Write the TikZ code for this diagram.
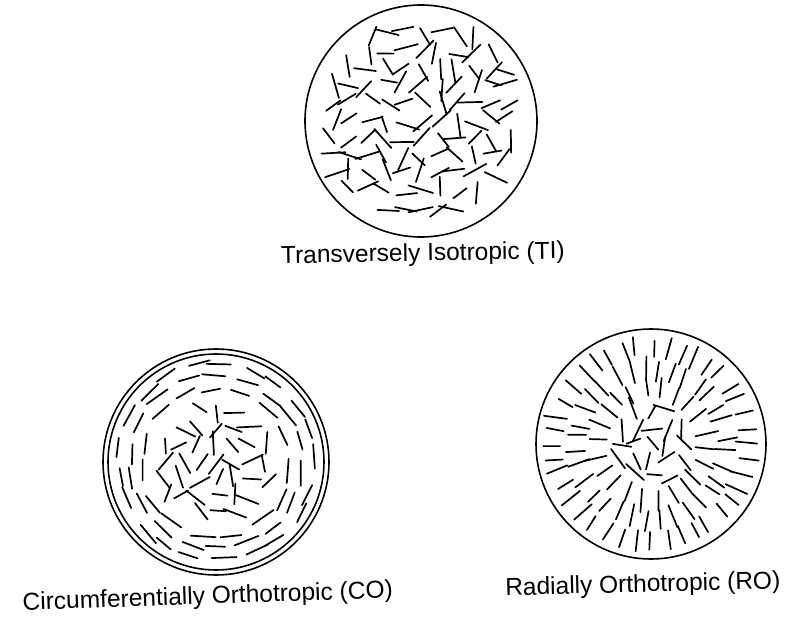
\documentclass[tikz,border=0pt]{standalone}
\usepackage{fontspec}
\setmainfont{Liberation Sans}
\begin{document}
\begin{tikzpicture}[x=1pt,y=-1pt,
  fib/.style={line width=1.7pt, line cap=round},
  rim/.style={line width=1.6pt},
  lab/.style={font=\fontsize{24.5}{28}\selectfont, anchor=base, inner sep=0pt}]
\useasboundingbox (0,0) rectangle (792,620);
\pgfmathsetseed{4711}
% ---------- Transversely isotropic ----------
\coordinate (ti) at (421,121);
\begin{scope}[shift={(421,121)}]
\draw[rim] (0,0) circle[radius=116];
\foreach \i in {-6,...,6}{
  \foreach \j in {-6,...,6}{
    \pgfmathsetmacro{\px}{\i*17.5+5*rand}
    \pgfmathsetmacro{\py}{\j*17.5+5*rand}
    \pgfmathtruncatemacro{\ok}{veclen(\px,\py)<100}
    \ifnum\ok=1
      \pgfmathsetmacro{\an}{180*rnd}
      \pgfmathsetmacro{\len}{10.5+2.5*rand}
      \pgfmathsetmacro{\dx}{\len*cos(\an)}
      \pgfmathsetmacro{\dy}{\len*sin(\an)}
      \draw[fib] (\px+\dx,\py+\dy) -- (\px-\dx,\py-\dy);
    \fi
  }
}
\end{scope}
% ---------- Circumferentially orthotropic ----------
\coordinate (co) at (216,462);
\begin{scope}[shift={(216,462)}]
\draw[rim] (0,0) circle[radius=113];
\draw[rim] (0,0) circle[radius=108];
\foreach \rr/\n/\off in {98/21/0, 86/18/9, 74/15/4}{
  \foreach \k in {1,...,\n}{
    \pgfmathsetmacro{\th}{360/\n*\k+\off+4*rand}
    \pgfmathsetmacro{\r}{\rr+2.5*rand}
    \pgfmathsetmacro{\an}{\th+90+8*rand}
    \pgfmathsetmacro{\len}{11+2*rand}
    \pgfmathsetmacro{\cx}{\r*cos(\th)}
    \pgfmathsetmacro{\cy}{\r*sin(\th)}
    \pgfmathsetmacro{\dx}{\len*cos(\an)}
    \pgfmathsetmacro{\dy}{\len*sin(\an)}
    \draw[fib] (\cx+\dx,\cy+\dy) -- (\cx-\dx,\cy-\dy);
  }
}
\foreach \i in {-4,...,4}{
  \foreach \j in {-4,...,4}{
    \pgfmathsetmacro{\px}{\i*17+4*rand}
    \pgfmathsetmacro{\py}{\j*17+4*rand}
    \pgfmathtruncatemacro{\ok}{veclen(\px,\py)<58}
    \ifnum\ok=1
      \pgfmathsetmacro{\an}{180*rnd}
      \pgfmathsetmacro{\len}{10+2.5*rand}
      \pgfmathsetmacro{\dx}{\len*cos(\an)}
      \pgfmathsetmacro{\dy}{\len*sin(\an)}
      \draw[fib] (\px+\dx,\py+\dy) -- (\px-\dx,\py-\dy);
    \fi
  }
}
\end{scope}
% ---------- Radially orthotropic ----------
\coordinate (ro) at (651,444);
\begin{scope}[shift={(651,444)}]
\draw[rim] (0,0) circle[radius=115];
\foreach \rr/\n/\off in {97/40/0, 75/32/5, 55/22/3}{
  \foreach \k in {1,...,\n}{
    \pgfmathsetmacro{\th}{360/\n*\k+\off+3*rand}
    \pgfmathsetmacro{\r}{\rr+2.5*rand}
    \pgfmathsetmacro{\an}{\th+8*rand}
    \pgfmathsetmacro{\len}{10+2*rand}
    \pgfmathsetmacro{\cx}{\r*cos(\th)}
    \pgfmathsetmacro{\cy}{\r*sin(\th)}
    \pgfmathsetmacro{\dx}{\len*cos(\an)}
    \pgfmathsetmacro{\dy}{\len*sin(\an)}
    \draw[fib] (\cx+\dx,\cy+\dy) -- (\cx-\dx,\cy-\dy);
  }
}
\foreach \i in {-3,...,3}{
  \foreach \j in {-3,...,3}{
    \pgfmathsetmacro{\px}{\i*16+4*rand}
    \pgfmathsetmacro{\py}{\j*16+4*rand}
    \pgfmathtruncatemacro{\ok}{veclen(\px,\py)<42}
    \ifnum\ok=1
      \pgfmathsetmacro{\an}{180*rnd}
      \pgfmathsetmacro{\len}{9.5+2.5*rand}
      \pgfmathsetmacro{\dx}{\len*cos(\an)}
      \pgfmathsetmacro{\dy}{\len*sin(\an)}
      \draw[fib] (\px+\dx,\py+\dy) -- (\px-\dx,\py-\dy);
    \fi
  }
}
\end{scope}
% ---------- labels ----------
\node[lab, rotate=1] (tilab) at (423,261) {Transversely Isotropic (TI)};
\node[lab, rotate=2] (colab) at (208,604) {Circumferentially Orthotropic (CO)};
\node[lab, rotate=1.5] (rolab) at (643,592) {Radially Orthotropic (RO)};
\end{tikzpicture}
\end{document}
